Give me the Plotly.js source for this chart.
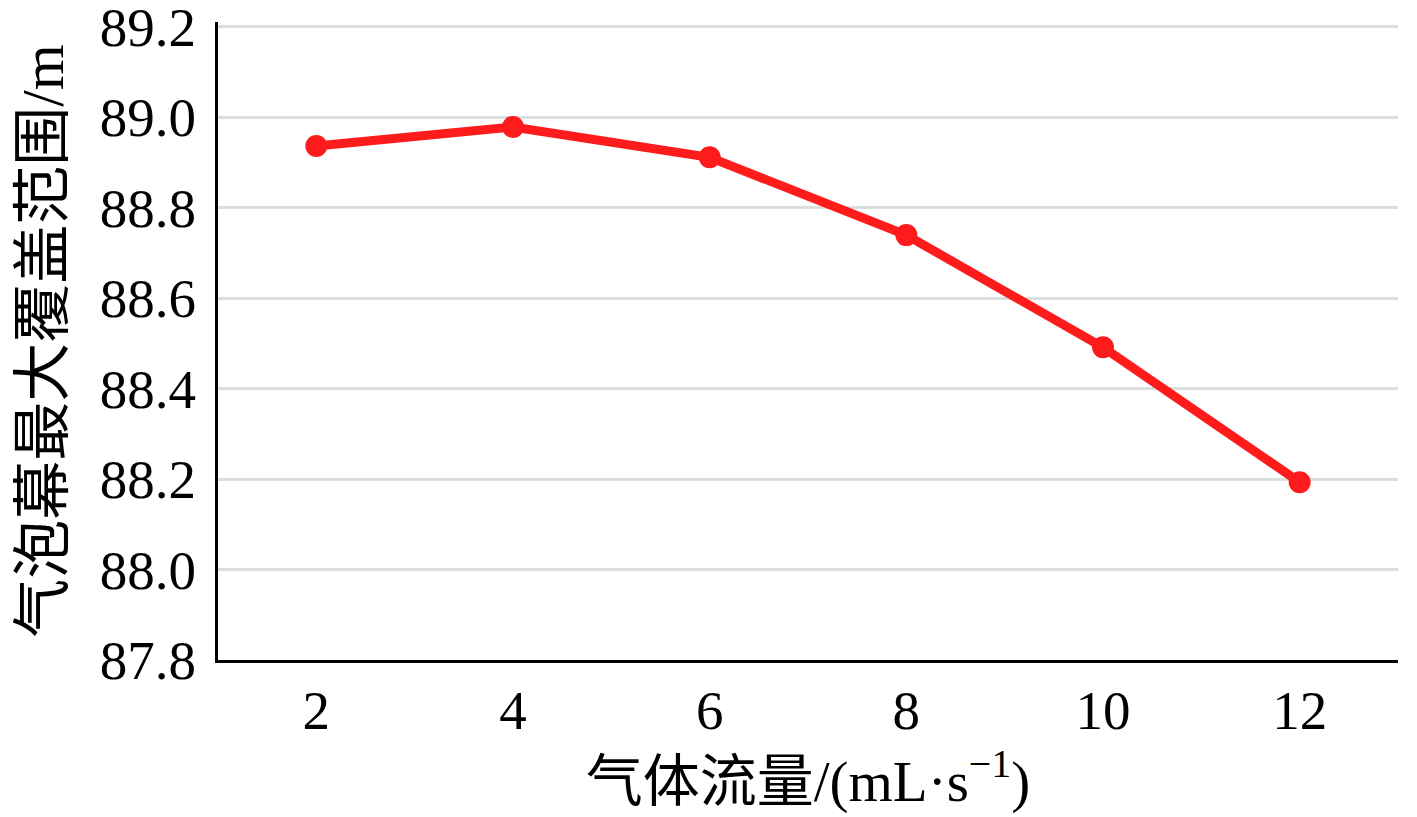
<!DOCTYPE html>
<html>
<head>
<meta charset="utf-8">
<script src="https://cdn.plot.ly/plotly-3.0.1.min.js"></script>
<style>
  html, body { margin: 0; padding: 0; background: #fff; }
  #chart { width: 1417px; height: 817px; }
</style>
</head>
<body>
<div id="chart"></div>
<script>
// gas flow rate (mL/s) and max coverage of the bubble curtain (m)
var flowRates = ['2', '4', '6', '8', '10', '12'];
var coverage = [88.936, 88.978, 88.911, 88.739, 88.491, 88.193];
var yTicks = [87.8, 88.0, 88.2, 88.4, 88.6, 88.8, 89.0, 89.2];
var yTickText = ['87.8', '88.0', '88.2', '88.4', '88.6', '88.8', '89.0', '89.2'];

var fontFam = '"Liberation Serif", "Times New Roman", "Noto Sans CJK SC", serif';

var data = [{
  x: flowRates,
  y: coverage,
  type: 'scatter',
  mode: 'lines+markers',
  line: {color: '#fe1b1b', width: 9},
  marker: {color: '#fe1b1b', size: 22},
  hoverinfo: 'x+y'
}];

var layout = {
  width: 1417,
  height: 817,
  margin: {l: 218, r: 19, t: 22, b: 157},
  paper_bgcolor: '#ffffff',
  plot_bgcolor: '#ffffff',
  showlegend: false,
  font: {family: fontFam, size: 55, color: '#000000'},
  xaxis: {
    type: 'category',
    range: [-0.5, 5.5],
    showgrid: false,
    showline: true,
    linecolor: '#000000',
    linewidth: 3,
    ticks: '',
    tickfont: {family: fontFam, size: 55},
    automargin: 'bottom',
    title: {
      text: '气体流量/(mL·s<sup>−1</sup>)',
      font: {family: fontFam, size: 57},
      standoff: 0
    },
    zeroline: false
  },
  yaxis: {
    range: [87.8, 89.21],
    tickmode: 'array',
    tickvals: yTicks,
    ticktext: yTickText,
    ticklabeloverflow: 'allow',
    showgrid: true,
    gridcolor: '#d9dfdd',
    gridwidth: 3,
    showline: true,
    linecolor: '#000000',
    linewidth: 3,
    ticks: 'outside',
    ticklen: 8,
    tickcolor: 'rgba(0,0,0,0)',
    tickfont: {family: fontFam, size: 55},
    automargin: 'left',
    title: {
      text: '气泡幕最大覆盖范围/m',
      font: {family: fontFam, size: 59},
      standoff: 18
    },
    zeroline: false
  }
};

Plotly.newPlot('chart', data, layout, {displayModeBar: false});
</script>
</body>
</html>
